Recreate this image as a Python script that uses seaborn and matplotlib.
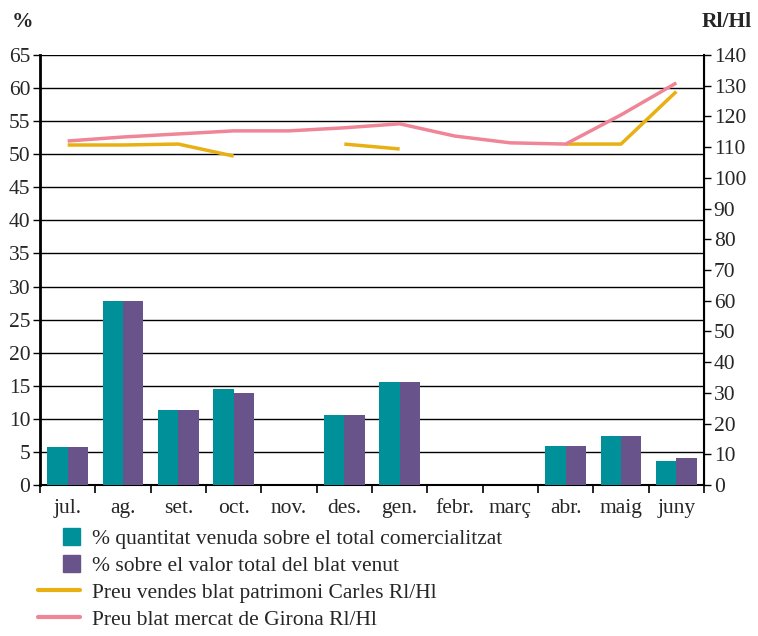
import numpy as np
import pandas as pd
import seaborn as sns
import matplotlib.pyplot as plt
from matplotlib.lines import Line2D
from matplotlib.patches import Rectangle
from matplotlib.legend_handler import HandlerPatch

# Data
months = ["jul.", "ag.", "set.", "oct.", "nov.", "des.", "gen.",
          "febr.", "març", "abr.", "maig", "juny"]
pct_quantity = [5.7, 27.8, 11.3, 14.5, 0, 10.6, 15.6, 0, 0, 5.9, 7.4, 3.6]
pct_value = [5.7, 27.8, 11.3, 13.9, 0, 10.6, 15.6, 0, 0, 5.9, 7.4, 4.1]
price_carles = [110.7, 110.7, 111.0, 107.1, np.nan, 111.0, 109.4,
                np.nan, np.nan, 111.0, 111.0, 128.1]
price_girona = [112.0, 113.3, 114.3, 115.3, 115.3, 116.3, 117.6,
                113.6, 111.4, 111.0, 120.5, 130.9]

bar_labels = ["% quantitat venuda sobre el total comercialitzat",
              "% sobre el valor total del blat venut"]
line_labels = ["Preu vendes blat patrimoni Carles Rl/Hl",
               "Preu blat mercat de Girona Rl/Hl"]

teal = "#00909a"
purple = "#68538a"
yellow = "#e8b012"
pink = "#f08598"

sns.set_style("white")
plt.rcParams["font.family"] = ["Liberation Serif", "DejaVu Serif"]
fs = 15.5

df = pd.DataFrame({
   "mes": months * 2,
   "valor": pct_quantity + pct_value,
   "serie": [bar_labels[0]] * 12 + [bar_labels[1]] * 12,
})

fig = plt.figure(figsize=(7.58, 6.36), dpi=100)
ax = fig.add_axes([40 / 758, 1 - 485 / 636, 664 / 758, 430 / 636])

sns.barplot(data=df, x="mes", y="valor", hue="serie", order=months,
            palette=[teal, purple], width=0.74, saturation=1,
            linewidth=0, legend=False, ax=ax, zorder=3)
ax.set_xlim(-0.5, 11.5)
ax.set_ylim(0, 65)
ax.set_yticks(np.arange(0, 66, 5))
ax.set_xlabel("")
ax.set_ylabel("")
ax.grid(axis="y", color="black", linewidth=1, zorder=0)
ax.set_axisbelow(True)
ax.tick_params(axis="y", direction="out", length=5, width=1, color="black",
               labelsize=fs, pad=2, left=True)
ax.set_xticks(np.arange(12))
ax.set_xticklabels(months)
ax.set_xticks(np.arange(-0.5, 12, 1), minor=True)
ax.tick_params(axis="x", which="major", length=0, labelsize=fs, pad=10)
ax.tick_params(axis="x", which="minor", direction="out", length=6,
               width=1.2, color="black", bottom=True)
for side in ["left", "bottom", "right"]:
   ax.spines[side].set_color("black")
ax.spines["left"].set_linewidth(2)
ax.spines["bottom"].set_linewidth(1.5)
ax.spines["top"].set_visible(False)

ax2 = ax.twinx()
x = np.arange(len(months))
ax2.plot(x, price_carles, color=yellow, linewidth=2.5, solid_capstyle="butt")
ax2.plot(x, price_girona, color=pink, linewidth=2.5, solid_capstyle="butt")
ax2.set_ylim(0, 140)
ax2.set_yticks(np.arange(0, 141, 10))
ax2.tick_params(axis="y", direction="out", length=5, width=1, color="black",
                labelsize=fs, pad=2, right=True)
ax2.spines["right"].set_color("black")
ax2.spines["right"].set_linewidth(1.5)
for side in ["left", "top", "bottom"]:
   ax2.spines[side].set_visible(False)
ax2.grid(False)

fig.text(12 / 758, 1 - 22 / 636, "%", fontsize=fs, fontweight="bold",
         va="center", ha="left")
fig.text(752 / 758, 1 - 22 / 636, "Rl/Hl", fontsize=fs, fontweight="bold",
         va="center", ha="right")


# square swatch on the right side of the handle box
def square_right(legend, orig_handle, xdescent, ydescent, width, height, fontsize):
   s = 12
   return Rectangle((-xdescent + width - s, -ydescent + (height - s) / 2), s, s)


handles = [
   Rectangle((0, 0), 1, 1, color=teal),
   Rectangle((0, 0), 1, 1, color=purple),
   Line2D([], [], color=yellow, linewidth=3),
   Line2D([], [], color=pink, linewidth=3),
]
fig.legend(handles, bar_labels + line_labels, loc="upper left",
           bbox_to_anchor=(38 / 758, 1 - 529 / 636), frameon=False,
           fontsize=fs, handlelength=1.95, handletextpad=0.55,
           labelspacing=0.32, borderaxespad=0, borderpad=0,
           handler_map={Rectangle: HandlerPatch(patch_func=square_right)})

fig.savefig("out.png", dpi=100)
